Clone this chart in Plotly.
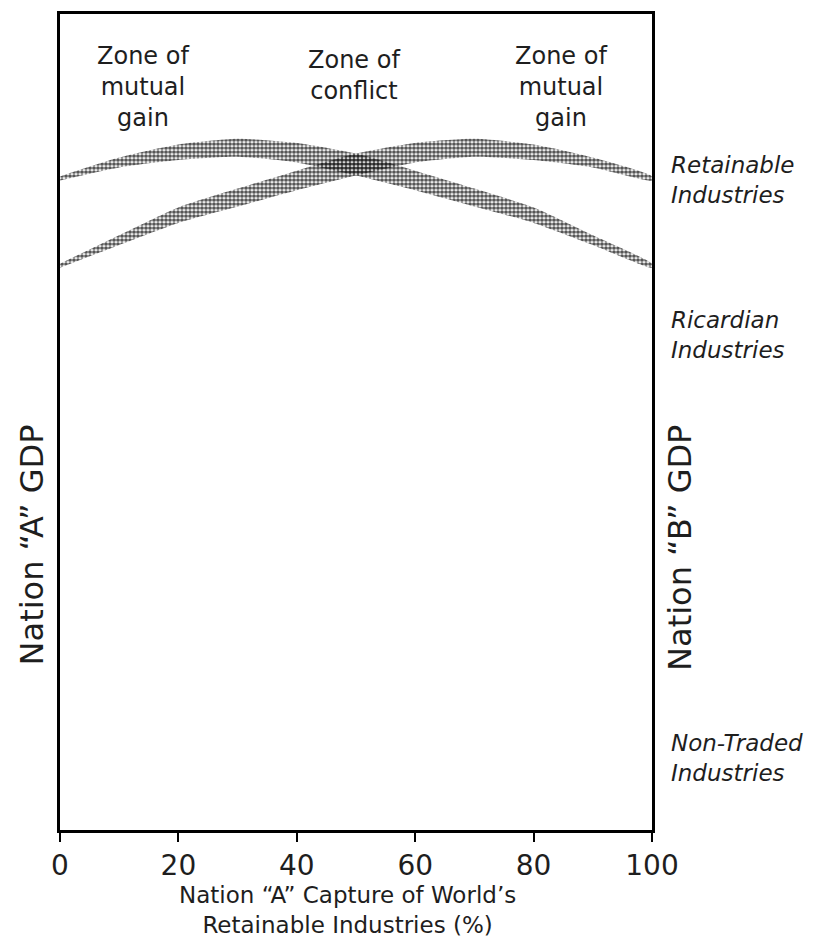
import plotly.graph_objects as go

# x positions (Nation "A" capture of world's retainable industries, %)
capture_pct = [0, 10, 20, 30, 40, 50, 60, 70, 80, 90, 100]

# band edges (GDP, arbitrary 0-100 scale)
nation_a_upper = [69.4, 72.9, 76.3, 78.6, 80.8, 82.9, 84.2, 84.7, 84.0, 82.4, 80.1]
nation_a_lower = [68.9, 71.7, 74.4, 76.4, 78.4, 80.2, 81.8, 82.5, 82.1, 81.2, 79.6]
nation_b_upper = [80.1, 82.4, 84.0, 84.7, 84.2, 82.9, 80.8, 78.6, 76.3, 72.9, 69.4]
nation_b_lower = [79.6, 81.2, 82.1, 82.5, 81.8, 80.2, 78.4, 76.4, 74.4, 71.7, 68.9]

x_ticks = [0, 20, 40, 60, 80, 100]

# (x centre, y centre, text) in axis units
zone_labels = [
    (14.0, 91.0, "Zone of<br>mutual<br>gain"),
    (49.7, 92.5, "Zone of<br>conflict"),
    (84.6, 91.0, "Zone of<br>mutual<br>gain"),
]
# (y centre as plot fraction, text)
industry_labels = [
    (0.797, "Retainable<br>Industries"),
    (0.607, "Ricardian<br>Industries"),
    (0.088, "Non-Traded<br>Industries"),
]
x_title = "Nation \u201cA\u201d Capture of World\u2019s<br>Retainable Industries (%)"
y_title_a = "Nation \u201cA\u201d GDP"
y_title_b = "Nation \u201cB\u201d GDP"

FONT = "DejaVu Sans"
INK = "#1e1e1e"

fig = go.Figure()

for upper, lower in [(nation_a_upper, nation_a_lower), (nation_b_upper, nation_b_lower)]:
    fig.add_trace(go.Scatter(
        x=capture_pct + capture_pct[::-1],
        y=upper + lower[::-1],
        mode="lines",
        line=dict(width=0, shape="spline", smoothing=0.6),
        fill="toself",
        fillcolor="rgba(0,0,0,0)",
        fillpattern=dict(shape=".", size=4, solidity=0.68,
                         fgcolor="#151515", fgopacity=0.72,
                         bgcolor="rgba(0,0,0,0)"),
        hoverinfo="skip",
        showlegend=False,
    ))

annotations = []
for xc, yc, txt in zone_labels:
    annotations.append(dict(x=xc, y=yc, text=txt, showarrow=False,
                            xanchor="center", yanchor="middle",
                            font=dict(family=FONT, size=24, color=INK)))

for yc, txt in industry_labels:
    annotations.append(dict(x=1.028, y=yc, xref="paper", yref="paper",
                            text="<i>" + txt.replace("<br>", "</i><br><i>") + "</i>",
                            showarrow=False, xanchor="left", yanchor="middle", align="left",
                            font=dict(family=FONT, size=23, color=INK)))

annotations.append(dict(x=0.486, y=-0.0985, xref="paper", yref="paper", text=x_title,
                        showarrow=False, xanchor="center", yanchor="middle",
                        font=dict(family=FONT, size=23, color=INK)))

annotations.append(dict(x=-0.047, y=0.349, xref="paper", yref="paper", text=y_title_a,
                        textangle=-90, showarrow=False, xanchor="center", yanchor="middle",
                        font=dict(family=FONT, size=32, color=INK)))
annotations.append(dict(x=1.047, y=0.3455, xref="paper", yref="paper", text=y_title_b,
                        textangle=-90, showarrow=False, xanchor="center", yanchor="middle",
                        font=dict(family=FONT, size=32, color=INK)))

fig.update_layout(
    width=818, height=930,
    margin=dict(l=52, r=174, t=3, b=108),
    paper_bgcolor="white",
    plot_bgcolor="white",
    annotations=annotations,
    showlegend=False,
)
fig.update_xaxes(
    range=[0, 100], tickvals=x_ticks, ticktext=[str(t) for t in x_ticks],
    ticks="outside", ticklen=9, tickwidth=2, tickcolor="black",
    showline=True, linecolor="black", linewidth=2.5, mirror=True,
    showgrid=False, zeroline=False,
    tickfont=dict(family=FONT, size=28, color=INK),
)
fig.update_yaxes(
    range=[0, 100], showticklabels=False, ticks="",
    showline=True, linecolor="black", linewidth=2.5, mirror=True,
    showgrid=False, zeroline=False,
)

fig.write_html("out.html")
